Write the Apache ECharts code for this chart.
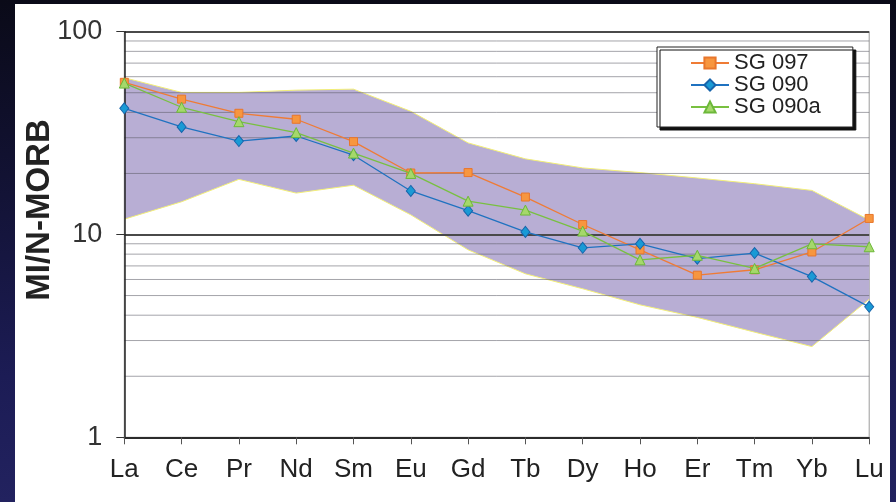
<!DOCTYPE html>
<html>
<head>
<meta charset="utf-8">
<script src="https://cdn.jsdelivr.net/npm/echarts@6/dist/echarts.min.js"></script>
<style>
  html, body { margin: 0; padding: 0; }
  body {
    width: 896px; height: 502px; overflow: hidden; position: relative;
    background: linear-gradient(180deg, #0a0a18 0%, #121233 35%, #1c1c55 75%, #22225f 100%);
  }
  #panel { position: absolute; left: 15px; top: 4px; width: 875px; height: 498px; background: #ffffff; }
  #chart { position: absolute; left: 0; top: 0; width: 896px; height: 502px; }
</style>
</head>
<body>
<div id="panel"></div>
<div id="chart"></div>
<script>
// ---- data ----
const categories = ['La', 'Ce', 'Pr', 'Nd', 'Sm', 'Eu', 'Gd', 'Tb', 'Dy', 'Ho', 'Er', 'Tm', 'Yb', 'Lu'];
const sg097  = [56.3, 46.5, 39.6, 37.0, 28.7, 20.1, 20.2, 15.3, 11.2, 8.4, 6.3, 6.7, 8.2, 12.0];
const sg090  = [41.9, 33.9, 28.9, 30.6, 24.6, 16.4, 13.1, 10.3, 8.6, 9.0, 7.6, 8.1, 6.2, 4.4];
const sg090a = [55.8, 42.4, 36.0, 31.8, 25.2, 20.0, 14.6, 13.2, 10.4, 7.5, 7.9, 6.8, 9.0, 8.7];
const envUpper = [59.3, 50.2, 50.2, 51.5, 52.1, 40.5, 28.3, 23.6, 21.3, 20.2, 19.0, 17.8, 16.5, 11.8];
const envLower = [11.9, 14.5, 18.7, 16.0, 17.5, 12.5, 8.4, 6.4, 5.4, 4.5, 3.9, 3.3, 2.8, 4.8];
const minorGrid = [2, 3, 4, 5, 6, 7, 8, 9, 20, 30, 40, 50, 60, 70, 80, 90];
const yMin = 1, yMax = 100;
const yTitle = 'MI/N-MORB';
const seriesNames = ['SG 097', 'SG 090', 'SG 090a'];

const FONT = "'Liberation Sans', Arial, sans-serif";
const chart = echarts.init(document.getElementById('chart'), null, { renderer: 'canvas' });
const lastIdx = categories.length - 1;

const option = {
  animation: false,
  backgroundColor: 'transparent',
  grid: {
    left: 124.3, right: 26.8, top: 31.7, bottom: 64.7,
    show: true, borderColor: '#9a9a9a', borderWidth: 1, backgroundColor: 'transparent'
  },
  legend: {
    data: seriesNames,
    orient: 'vertical',
    left: 657, top: 47,
    padding: [5, 32, 9, 33],
    itemWidth: 38, itemHeight: 14, itemGap: 0,
    backgroundColor: '#ffffff',
    borderColor: '#222222', borderWidth: 1, borderRadius: 0,
    shadowColor: '#111111', shadowOffsetX: 3, shadowOffsetY: 3, shadowBlur: 0,
    textStyle: { fontFamily: FONT, fontSize: 22, color: '#222222', lineHeight: 22 },
    selectedMode: false
  },
  xAxis: {
    type: 'category',
    data: categories,
    boundaryGap: false,
    z: 3,
    axisLine: { show: true, lineStyle: { color: '#222222', width: 1.5 } },
    axisTick: { show: true, length: 7, lineStyle: { color: '#555555', width: 1 } },
    axisLabel: { fontFamily: FONT, fontSize: 26, color: '#222222', margin: 20 },
    splitLine: { show: false }
  },
  yAxis: {
    type: 'log',
    logBase: 10,
    min: yMin, max: yMax,
    z: 3,
    axisLine: { show: true, lineStyle: { color: '#222222', width: 1.5 } },
    axisTick: { show: true, length: 8, lineStyle: { color: '#333333', width: 1 } },
    axisLabel: { fontFamily: FONT, fontSize: 27, color: '#333333', margin: 22 },
    splitLine: { show: true, lineStyle: { color: '#4a4a4a', width: 2 } },
    minorTick: { show: false },
    minorSplitLine: { show: false }
  },
  graphic: [{
    type: 'text',
    x: 39.5, y: 210,
    rotation: Math.PI / 2,
    style: {
      text: yTitle, x: 0, y: 0,
      align: 'center', verticalAlign: 'middle',
      font: "bold 33px 'Liberation Sans', Arial, sans-serif",
      fill: '#222222'
    }
  }],
  series: [
    {
      name: 'envelope',
      type: 'custom',
      z: 1,
      silent: true,
      data: categories.map((c, i) => [i, envUpper[i], envLower[i]]),
      encode: { x: 0, y: [1, 2] },
      renderItem: function (params, api) {
        if (params.dataIndex !== 0) return null;
        const top = categories.map((c, i) => api.coord([i, envUpper[i]]));
        const bot = categories.map((c, i) => api.coord([i, envLower[i]]));
        return {
          type: 'group',
          children: [
            { type: 'polygon', shape: { points: top.concat(bot.slice().reverse()) },
              style: { fill: '#b8aed4', stroke: null } },
            { type: 'polyline', shape: { points: top },
              style: { stroke: '#f2ee78', lineWidth: 1, fill: null } },
            { type: 'polyline', shape: { points: bot },
              style: { stroke: '#f2ee78', lineWidth: 1, fill: null } }
          ]
        };
      }
    },
    {
      name: 'minorGrid',
      type: 'custom',
      z: 2,
      silent: true,
      data: minorGrid.map(v => [0, v]),
      encode: { x: 0, y: 1 },
      renderItem: function (params, api) {
        const v = api.value(1);
        const p1 = api.coord([0, v]);
        const p2 = api.coord([lastIdx, v]);
        return {
          type: 'line',
          shape: { x1: p1[0], y1: p1[1], x2: p2[0], y2: p2[1] },
          style: { stroke: 'rgba(90,90,100,0.55)', lineWidth: 1 }
        };
      }
    },
    {
      name: 'SG 097',
      type: 'line',
      z: 5,
      data: sg097,
      symbol: 'rect',
      symbolSize: 8,
      lineStyle: { color: '#ef7b35', width: 1.3 },
      itemStyle: { color: '#f7963f', borderColor: '#e8762c', borderWidth: 1 }
    },
    {
      name: 'SG 090',
      type: 'line',
      z: 6,
      data: sg090,
      symbol: 'diamond',
      symbolSize: [9, 11],
      lineStyle: { color: '#1f72c0', width: 1.3 },
      itemStyle: { color: '#1a9ad5', borderColor: '#1764ab', borderWidth: 1 }
    },
    {
      name: 'SG 090a',
      type: 'line',
      z: 7,
      data: sg090a,
      symbol: 'triangle',
      symbolSize: 10,
      lineStyle: { color: '#78c040', width: 1.3 },
      itemStyle: { color: '#a5d86b', borderColor: '#6db83a', borderWidth: 1 }
    }
  ]
};
chart.setOption(option);
</script>
</body>
</html>
